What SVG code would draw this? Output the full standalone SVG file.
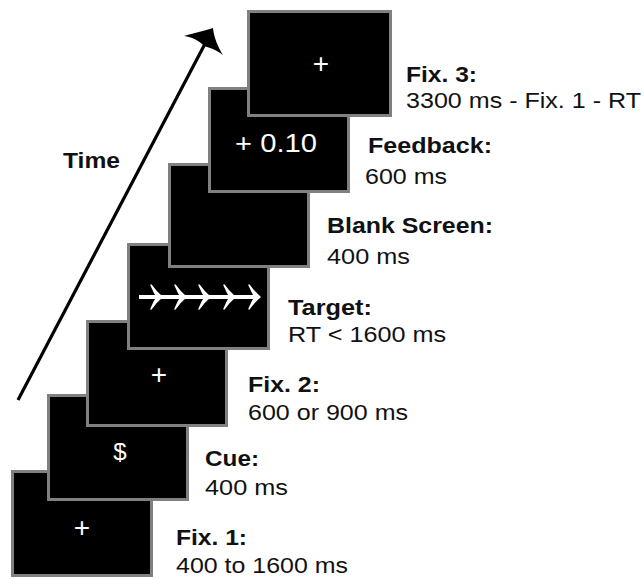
<svg xmlns="http://www.w3.org/2000/svg" width="644" height="579" viewBox="0 0 644 579">
<style>
.scr{fill:#000;stroke:#808080;stroke-width:3}
.lbl{font-family:"Liberation Sans",Arial,sans-serif;font-size:22px;fill:#111}
.b{font-weight:bold}
.st{font-family:"Liberation Sans",Arial,sans-serif;fill:#fff;text-anchor:middle}
.wa{fill:none;stroke:#fff;stroke-width:4}
.wh{fill:#fff;stroke:#fff;stroke-width:1.5;stroke-linejoin:round}
</style>
<rect width="644" height="579" fill="#fff"/>
<g id="connectors">
<line x1="18" y1="400" x2="207" y2="40" stroke="#000" stroke-width="3.2"/>
<path d="M213,28 C205,31 193,33 184,36 C192,37 200,41 204,46 C208,47 217,50 223,55 C218,47 214,38 213,28 Z" fill="#000"/>
</g>
<g id="time-label"><text class="lbl b" x="63" y="168" textLength="57" lengthAdjust="spacingAndGlyphs">Time</text></g>
<g id="fix1">
<rect class="scr" x="12.5" y="471.5" width="139" height="104"/>
<text class="st" x="82" y="537" font-size="28">+</text>
<text class="lbl b" x="176" y="545" textLength="71" lengthAdjust="spacingAndGlyphs">Fix. 1:</text>
<text class="lbl" x="176" y="573" textLength="172" lengthAdjust="spacingAndGlyphs">400 to 1600 ms</text>
</g>
<g id="cue">
<rect class="scr" x="48.5" y="395.5" width="139" height="104"/>
<text class="st" x="120" y="460" font-size="24">$</text>
<text class="lbl b" x="205" y="466" textLength="54" lengthAdjust="spacingAndGlyphs">Cue:</text>
<text class="lbl" x="205" y="495" textLength="83" lengthAdjust="spacingAndGlyphs">400 ms</text>
</g>
<g id="fix2">
<rect class="scr" x="87.5" y="321.5" width="139" height="104"/>
<text class="st" x="159" y="384" font-size="28">+</text>
<text class="lbl b" x="248" y="392" textLength="72" lengthAdjust="spacingAndGlyphs">Fix. 2:</text>
<text class="lbl" x="248" y="420" textLength="160" lengthAdjust="spacingAndGlyphs">600 or 900 ms</text>
</g>
<g id="target">
<rect class="scr" x="128.5" y="244.5" width="140" height="104"/>
<line class="wa" x1="139" y1="297" x2="256" y2="297"/>
<path class="wh" d="M162,297 Q156,292 151,285 Q154,292 157,297 Q154,302 151,309 Q156,302 162,297 Z M186,297 Q180,292 175,285 Q178,292 181,297 Q178,302 175,309 Q180,302 186,297 Z M210,297 Q204,292 199,285 Q202,292 205,297 Q202,302 199,309 Q204,302 210,297 Z M235,297 Q229,292 224,285 Q227,292 230,297 Q227,302 224,309 Q229,302 235,297 Z M260,297 Q254,292 249,285 Q252,292 255,297 Q252,302 249,309 Q254,302 260,297 Z"/>
<text class="lbl b" x="288" y="315" textLength="84" lengthAdjust="spacingAndGlyphs">Target:</text>
<text class="lbl" x="288" y="342" textLength="158" lengthAdjust="spacingAndGlyphs">RT &lt; 1600 ms</text>
</g>
<g id="blank">
<rect class="scr" x="169.5" y="164.5" width="139" height="102"/>
<text class="lbl b" x="327" y="233" textLength="166" lengthAdjust="spacingAndGlyphs">Blank Screen:</text>
<text class="lbl" x="327" y="264" textLength="83" lengthAdjust="spacingAndGlyphs">400 ms</text>
</g>
<g id="feedback">
<rect class="scr" x="209.5" y="88.5" width="139" height="103"/>
<text class="st" x="276" y="152" font-size="25" textLength="82" lengthAdjust="spacingAndGlyphs">+ 0.10</text>
<text class="lbl b" x="368" y="153" textLength="124" lengthAdjust="spacingAndGlyphs">Feedback:</text>
<text class="lbl" x="365" y="184" textLength="82" lengthAdjust="spacingAndGlyphs">600 ms</text>
</g>
<g id="fix3">
<rect class="scr" x="248.5" y="11.5" width="142" height="104"/>
<text class="st" x="321" y="73" font-size="28">+</text>
<text class="lbl b" x="406" y="82" textLength="71" lengthAdjust="spacingAndGlyphs">Fix. 3:</text>
<text class="lbl" x="406" y="108" textLength="235" lengthAdjust="spacingAndGlyphs">3300 ms - Fix. 1 - RT</text>
</g>
</svg>
